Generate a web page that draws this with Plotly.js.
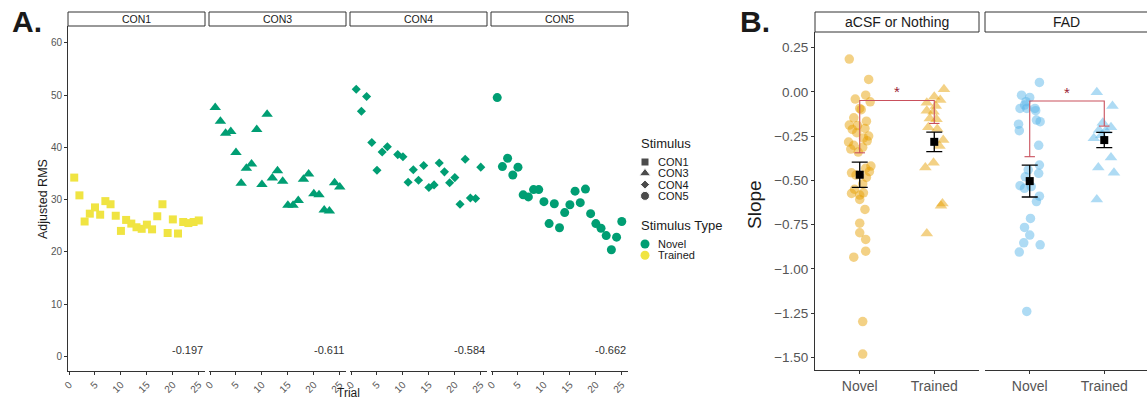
<!DOCTYPE html>
<html>
<head>
<meta charset="utf-8">
<script src="https://cdn.plot.ly/plotly-3.0.1.min.js"></script>
<style>
  html, body { margin: 0; padding: 0; background: #ffffff; }
  #chart { width: 1147px; height: 402px; }
</style>
</head>
<body>
<div id="chart"></div>
<script>
// ---------- Panel A: adjusted RMS per trial, one facet per stimulus ----------
const con1Trials = [1,2,3,4,5,6,7,8,9,10,11,12,13,14,15,16,17,18,19,20,21,22,23,24,25];
const con1RMS = [34.2,30.8,25.8,27.3,28.5,27.1,29.7,29.1,26.9,24.0,26.1,25.4,24.7,24.4,25.2,24.3,26.8,29.1,23.6,26.2,23.5,25.7,25.5,25.7,26.0];

const con3Trials = [1,2,3,4,5,6,7,8,9,10,11,12,13,14,15,16,17,18,19,20,21,22,23,24,25];
const con3RMS = [47.6,45.0,42.7,43.0,39.0,33.1,36.0,36.8,43.4,32.9,46.3,34.1,35.5,33.5,28.9,28.9,29.8,33.9,34.9,31.1,30.9,28.0,27.8,33.2,32.4];

const con4Trials = [1,2,3,4,5,6,7,9,10,11,12,13,14,15,16,17,18,19,20,21,22,23,24,25];
const con4RMS = [51.1,46.9,49.7,40.9,35.6,39.1,40.1,38.6,38.2,33.3,35.7,33.7,36.5,32.3,32.8,37.0,35.3,33.2,34.2,29.1,37.7,30.3,30.2,36.2];

const con5Trials = [1,2,3,4,5,6,7,8,9,10,11,12,13,14,15,16,17,18,19,20,21,22,23,24,25];
const con5RMS = [49.5,36.3,37.9,34.7,36.2,30.9,30.5,31.9,31.9,29.6,25.4,29.2,24.6,27.5,29.0,31.6,29.4,32.0,27.3,25.4,24.5,23.1,20.4,22.8,25.8];

const stimulusNames = ['CON1','CON3','CON4','CON5'];
const stimulusTypes = ['Trained','Novel','Novel','Novel'];
const slopeLabels = ['-0.197','-0.611','-0.584','-0.662'];
const trialTicks = [0,5,10,15,20,25];
const rmsTicks = [0,10,20,30,40,50,60];

// ---------- Panel B: slopes by group ----------
const groupLabels = ['Novel','Trained'];
const facetLabels = ['aCSF or Nothing','FAD'];

// jittered positions (1 = Novel, 2 = Trained) and slope values
const acsfNovelX = [0.86,1.12,1.08,0.94,1.14,1.00,1.02,0.92,1.09,0.86,0.90,1.07,0.97,1.12,0.96,1.05,0.85,0.92,1.04,1.10,0.88,0.98,1.15,1.08,0.89,1.09,1.13,0.95,1.04,0.89,1.00,1.05,1.00,0.93,1.07,1.00,1.00,1.08,1.08,0.92,1.04,1.04];
const acsfNovelSlope = [0.186,0.071,-0.018,-0.040,-0.056,-0.093,-0.100,-0.146,-0.165,-0.187,-0.212,-0.206,-0.190,-0.249,-0.230,-0.260,-0.283,-0.302,-0.313,-0.276,-0.323,-0.340,-0.419,-0.432,-0.457,-0.483,-0.450,-0.470,-0.520,-0.574,-0.583,-0.570,-0.608,-0.550,-0.664,-0.742,-0.796,-0.834,-0.900,-0.934,-1.298,-1.482];

const acsfTrainedX = [2.13,2.00,2.08,1.90,2.02,1.90,1.99,1.94,2.03,1.92,2.04,2.12,2.07,1.88,1.99,2.09,2.11,1.90];
const acsfTrainedSlope = [0.015,-0.027,-0.046,-0.061,-0.080,-0.106,-0.112,-0.150,-0.155,-0.200,-0.210,-0.272,-0.306,-0.427,-0.400,-0.644,-0.630,-0.800];

const fadNovelX = [1.13,0.89,1.00,0.95,0.93,0.87,0.96,1.07,1.08,1.09,1.14,0.85,0.86,1.12,1.13,0.98,1.12,0.94,0.87,0.93,1.02,1.13,1.09,1.01,0.93,1.00,0.92,1.14,0.86,0.96];
const fadNovelSlope = [0.054,-0.018,-0.031,-0.055,-0.074,-0.093,-0.093,-0.093,-0.106,-0.159,-0.168,-0.182,-0.219,-0.302,-0.413,-0.440,-0.460,-0.480,-0.530,-0.545,-0.535,-0.589,-0.620,-0.715,-0.766,-0.809,-0.853,-0.864,-0.905,-1.241];

const fadTrainedX = [1.90,2.11,1.98,2.09,1.93,2.02,1.86,1.96,2.09,1.92,2.13,1.90];
const fadTrainedSlope = [-0.002,-0.080,-0.174,-0.200,-0.215,-0.220,-0.262,-0.245,-0.370,-0.427,-0.457,-0.608];

// group means with standard errors
const acsfMean = [-0.468,-0.282];
const acsfSE = [0.071,0.055];
const fadMean = [-0.504,-0.272];
const fadSE = [0.090,0.043];

// significance brackets: [aCSF, FAD]
const bracketTop = [-0.048,-0.051];
const bracketNovelEnd = [-0.344,-0.366];
const bracketTrainedEnd = [-0.178,-0.193];
const bracketLabel = ['*','*'];

const slopeTicks = [0.25,0,-0.25,-0.5,-0.75,-1,-1.25,-1.5];

// ---------- styling ----------
const W = 1147, H = 402;
const px = v => v / W;
const py = v => 1 - v / H;
const FONT = 'Liberation Sans, Arial, Helvetica, sans-serif';
const GREEN = '#009E73', YELLOW = '#F0E442';
const ORANGE = '#E69F00', SKY = '#56B4E9';
const typeColor = { Novel: GREEN, Trained: YELLOW };
const stimSymbol = { CON1: 'square', CON3: 'triangle-up', CON4: 'diamond', CON5: 'circle' };
const stimSize = { CON1: 8, CON3: 10, CON4: 7, CON5: 9 };
const AXIS = '#333333', TICKTXT = '#555555';

const panelAData = [
  { x: con1Trials, y: con1RMS },
  { x: con3Trials, y: con3RMS },
  { x: con4Trials, y: con4RMS },
  { x: con5Trials, y: con5RMS }
];
const panelAEdges = [[68,205],[209,346],[350,487],[491,628]];
const panelATop = 26, panelABottom = 371;
const panelBEdges = [[815,979],[985,1147]];
const panelBTop = 32, panelBBottom = 370;
const bUnit = (979 - 815) / 2.2;

const traces = [];
const layout = {
  width: W, height: H,
  margin: { l: 0, r: 0, t: 0, b: 0 },
  paper_bgcolor: '#ffffff', plot_bgcolor: '#ffffff',
  showlegend: false,
  font: { family: FONT, color: '#1a1a1a' },
  shapes: [], annotations: []
};

// Panel A facets
panelAData.forEach((d, i) => {
  const xa = i === 0 ? 'x' : 'x' + (i + 1);
  const name = stimulusNames[i];
  traces.push({
    type: 'scatter', mode: 'markers', xaxis: xa, yaxis: 'y',
    x: d.x, y: d.y, hoverinfo: 'skip',
    marker: { symbol: stimSymbol[name], size: stimSize[name], color: typeColor[stimulusTypes[i]], line: { width: 0 } }
  });
  const [a, b] = panelAEdges[i];
  layout[i === 0 ? 'xaxis' : 'xaxis' + (i + 1)] = {
    domain: [px(a), px(b)], anchor: 'y', range: [-0.2, 26.2],
    tickmode: 'array', tickvals: trialTicks, tickangle: -45,
    showline: true, linecolor: AXIS, linewidth: 1,
    ticks: 'outside', ticklen: 3, tickcolor: AXIS,
    showgrid: false, zeroline: false,
    tickfont: { size: 10, color: TICKTXT, family: FONT }
  };
  layout.shapes.push({ type: 'rect', xref: 'paper', yref: 'paper', x0: px(a), x1: px(b), y0: py(panelATop), y1: py(12),
    line: { color: AXIS, width: 1 }, fillcolor: '#ffffff' });
  layout.annotations.push({ xref: 'paper', yref: 'paper', x: px((a + b) / 2), y: py(19), text: name, showarrow: false,
    xanchor: 'center', yanchor: 'middle', font: { size: 10.5, color: '#1a1a1a', family: FONT } });
  layout.annotations.push({ xref: xa + ' domain', yref: 'y', x: 1, y: 1.2, text: slopeLabels[i], showarrow: false,
    xanchor: 'right', yanchor: 'middle', font: { size: 11, color: '#333', family: FONT } });
});

layout.yaxis = {
  domain: [py(panelABottom), py(panelATop)], anchor: 'x', range: [-2.8, 63.2],
  tickmode: 'array', tickvals: rmsTicks,
  showline: true, linecolor: AXIS, linewidth: 1,
  ticks: 'outside', ticklen: 3, tickcolor: AXIS,
  showgrid: false, zeroline: false,
  tickfont: { size: 10, color: TICKTXT, family: FONT }
};

// Panel B facets
const bSets = [
  { xa: 'x5', color: ORANGE, novX: acsfNovelX, novY: acsfNovelSlope, trX: acsfTrainedX, trY: acsfTrainedSlope, mean: acsfMean, se: acsfSE },
  { xa: 'x6', color: SKY, novX: fadNovelX, novY: fadNovelSlope, trX: fadTrainedX, trY: fadTrainedSlope, mean: fadMean, se: fadSE }
];
bSets.forEach((s, i) => {
  traces.push({ type: 'scatter', mode: 'markers', xaxis: s.xa, yaxis: 'y2', x: s.novX, y: s.novY, hoverinfo: 'skip',
    marker: { symbol: 'circle', size: 9.5, color: s.color, opacity: 0.48, line: { width: 0 } } });
  traces.push({ type: 'scatter', mode: 'markers', xaxis: s.xa, yaxis: 'y2', x: s.trX, y: s.trY, hoverinfo: 'skip',
    marker: { symbol: 'triangle-up', size: 11, color: s.color, opacity: 0.48, line: { width: 0 } } });
  // significance bracket with small end ticks
  const bx = [1, 1, 2, 2, null, 0.93, 1.07, null, 1.93, 2.07];
  const by = [bracketNovelEnd[i], bracketTop[i], bracketTop[i], bracketTrainedEnd[i], null,
              bracketNovelEnd[i], bracketNovelEnd[i], null, bracketTrainedEnd[i], bracketTrainedEnd[i]];
  traces.push({ type: 'scatter', mode: 'lines', xaxis: s.xa, yaxis: 'y2', x: bx, y: by, hoverinfo: 'skip',
    connectgaps: false, line: { color: '#C9505C', width: 1.1 } });
  // group means with SE bars
  traces.push({ type: 'scatter', mode: 'markers', xaxis: s.xa, yaxis: 'y2', x: [1, 2], y: s.mean, hoverinfo: 'skip',
    marker: { symbol: 'square', size: 8, color: '#000' },
    error_y: { type: 'data', array: s.se, visible: true, color: '#000', thickness: 1.3, width: 8 } });
  layout.annotations.push({ xref: s.xa, yref: 'y2', x: 1.5, y: bracketTop[i], text: bracketLabel[i], showarrow: false,
    xanchor: 'center', yanchor: 'bottom', yshift: -2, font: { size: 15, color: '#9B2335', family: FONT } });

  const [a, b] = panelBEdges[i];
  layout['xaxis' + (5 + i)] = {
    domain: [px(a), Math.min(1, px(b))], anchor: 'y2', range: [0.4, 0.4 + (b - a) / bUnit],
    tickmode: 'array', tickvals: [1, 2], ticktext: groupLabels,
    showline: true, linecolor: AXIS, linewidth: 1,
    ticks: 'outside', ticklen: 3, tickcolor: AXIS,
    showgrid: false, zeroline: false,
    tickfont: { size: 14, color: TICKTXT, family: FONT }
  };
  layout.shapes.push({ type: 'rect', xref: 'paper', yref: 'paper', x0: px(a), x1: px(i === 1 ? b + 4 : b), y0: py(panelBTop), y1: py(12),
    line: { color: AXIS, width: 1 }, fillcolor: '#ffffff' });
  layout.annotations.push({ xref: 'paper', yref: 'paper', x: px((a + b) / 2), y: py(22), text: facetLabels[i], showarrow: false,
    xanchor: 'center', yanchor: 'middle', font: { size: 14, color: '#1a1a1a', family: FONT } });
});

layout.yaxis2 = {
  domain: [py(panelBBottom), py(panelBTop)], anchor: 'x5', range: [-1.572, 0.339],
  tickmode: 'array', tickvals: slopeTicks, tickformat: '.2f',
  showline: true, linecolor: AXIS, linewidth: 1,
  ticks: 'outside', ticklen: 3, tickcolor: AXIS,
  showgrid: false, zeroline: false,
  tickfont: { size: 13.5, color: TICKTXT, family: FONT }
};

// Legend for panel A, drawn on a pixel-scaled helper axis
layout.xaxis7 = { domain: [px(630), px(760)], anchor: 'y7', range: [630, 760], visible: false, fixedrange: true };
layout.yaxis7 = { domain: [py(270), py(130)], anchor: 'x7', range: [270, 130], visible: false, fixedrange: true };
const legTitleX = 639, legSymX = 645, legTextX = 656, legGap = 11.3;
const stimRows = stimulusNames.map((_, i) => 162 + i * legGap);
const typeNames = ['Novel', 'Trained'];
const typeRows = typeNames.map((_, i) => 244 + i * legGap);
traces.push({ type: 'scatter', mode: 'markers', xaxis: 'x7', yaxis: 'y7', hoverinfo: 'skip',
  x: stimulusNames.map(() => legSymX), y: stimRows,
  marker: { symbol: stimulusNames.map(n => stimSymbol[n]), size: stimulusNames.map(n => stimSize[n]), color: '#000' } });
traces.push({ type: 'scatter', mode: 'markers', xaxis: 'x7', yaxis: 'y7', hoverinfo: 'skip',
  x: typeNames.map(() => legSymX), y: typeRows,
  marker: { symbol: 'circle', size: 9, color: typeNames.map(n => typeColor[n]) } });
layout.annotations.push({ xref: 'x7', yref: 'y7', x: legTitleX, y: 143, text: 'Stimulus', showarrow: false,
  xanchor: 'left', yanchor: 'middle', font: { size: 13, color: '#1a1a1a', family: FONT } });
layout.annotations.push({ xref: 'x7', yref: 'y7', x: legTitleX, y: 225, text: 'Stimulus Type', showarrow: false,
  xanchor: 'left', yanchor: 'middle', font: { size: 13, color: '#1a1a1a', family: FONT } });
stimulusNames.forEach((n, i) => layout.annotations.push({ xref: 'x7', yref: 'y7', x: legTextX, y: stimRows[i], text: n,
  showarrow: false, xanchor: 'left', yanchor: 'middle', font: { size: 11, color: '#1a1a1a', family: FONT } }));
typeNames.forEach((n, i) => layout.annotations.push({ xref: 'x7', yref: 'y7', x: legTextX, y: typeRows[i], text: n,
  showarrow: false, xanchor: 'left', yanchor: 'middle', font: { size: 11, color: '#1a1a1a', family: FONT } }));

// Axis titles and panel tags
layout.annotations.push(
  { xref: 'paper', yref: 'paper', x: px(43), y: py(199), text: 'Adjusted RMS', textangle: -90, showarrow: false,
    xanchor: 'center', yanchor: 'middle', font: { size: 12.5, color: '#1a1a1a', family: FONT } },
  { xref: 'paper', yref: 'paper', x: px(348), y: py(393), text: 'Trial', showarrow: false,
    xanchor: 'center', yanchor: 'middle', font: { size: 12, color: '#1a1a1a', family: FONT } },
  { xref: 'paper', yref: 'paper', x: px(755), y: py(205), text: 'Slope', textangle: -90, showarrow: false,
    xanchor: 'center', yanchor: 'middle', font: { size: 19, color: '#1a1a1a', family: FONT } },
  { xref: 'paper', yref: 'paper', x: px(10), y: py(22), text: '<b>A.</b>', showarrow: false,
    xanchor: 'left', yanchor: 'middle', font: { size: 30, color: '#1a1a1a', family: FONT } },
  { xref: 'paper', yref: 'paper', x: px(738), y: py(22), text: '<b>B.</b>', showarrow: false,
    xanchor: 'left', yanchor: 'middle', font: { size: 30, color: '#1a1a1a', family: FONT } }
);

Plotly.newPlot('chart', traces, layout, { staticPlot: true, displayModeBar: false });
</script>
</body>
</html>
